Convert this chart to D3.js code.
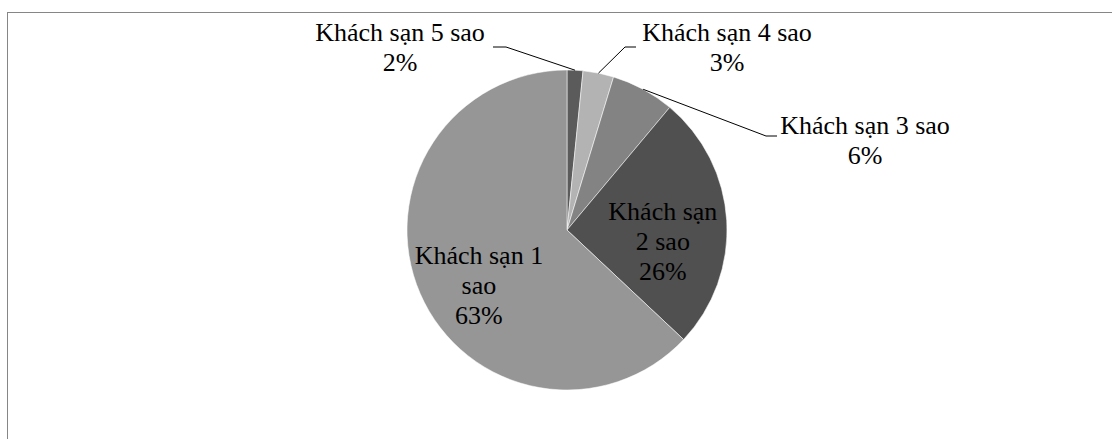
<!DOCTYPE html>
<html>
<head>
<meta charset="utf-8">
<script src="https://cdn.jsdelivr.net/npm/d3@7"></script>
<style>
  html, body { margin: 0; padding: 0; background: #fff; overflow: hidden; }
  svg { display: block; }
  .lbl { font-family: "Liberation Serif", "DejaVu Serif", "Times New Roman", serif; }
</style>
</head>
<body>
<svg id="chart" width="1112" height="439"></svg>
<script>
// data
const categories = ["Khách sạn 5 sao", "Khách sạn 4 sao", "Khách sạn 3 sao", "Khách sạn 2 sao", "Khách sạn 1 sao"];
const shares = [1.6, 3.1, 6.4, 25.9, 63.0];
// how many words go on the first label line (inside labels wrap)
const firstLineWords = [4, 4, 4, 2, 3];

const svg = d3.select("#chart");
const width = 1112, height = 439;

// chart area frame (right and bottom edges fall outside the picture)
svg.append("rect")
  .attr("x", 7.5).attr("y", 12.5)
  .attr("width", width + 20).attr("height", height + 20)
  .attr("fill", "#fff")
  .attr("stroke", "#868686")
  .attr("stroke-width", 1);

const cx = 567, cy = 230, r = 160;

const color = d3.scaleOrdinal()
  .domain(categories)
  .range(["#5b5b5b", "#b3b3b3", "#838383", "#505050", "#969696"]);

const data = categories.map((c, i) => ({ name: c, value: shares[i], idx: i }));

const pie = d3.pie().sort(null).value(d => d.value);
const arcs = pie(data);

const arc = d3.arc().innerRadius(0).outerRadius(r);
const edgeArc = d3.arc().innerRadius(r).outerRadius(r);
const innerArc = d3.arc().innerRadius(r * 0.6).outerRadius(r * 0.6);

const g = svg.append("g").attr("transform", `translate(${cx},${cy})`);

g.selectAll("path.slice")
  .data(arcs)
  .enter()
  .append("path")
  .attr("class", "slice")
  .attr("d", arc)
  .attr("fill", d => color(d.data.name))
  .attr("stroke", "#ffffff")
  .attr("stroke-opacity", 0.7)
  .attr("stroke-width", 0.75);

const fontSize = 26, lineH = 30;

function labelLines(d) {
  const words = d.data.name.split(" ");
  const n = firstLineWords[d.data.idx];
  const lines = [words.slice(0, n).join(" ")];
  if (n < words.length) lines.push(words.slice(n).join(" "));
  lines.push(Math.round(d.data.value) + "%");
  return lines;
}

// outside labels: label box (centre x, middle y), leader elbow x/y and end x
const outside = {
  0: { x: 400, y: 47, ly: 47, elbow: 506, end: 493 },
  1: { x: 727, y: 47, ly: 47, elbow: 625, end: 636 },
  2: { x: 865, y: 140, ly: 136, elbow: 766, end: 777 }
};

const labels = svg.append("g")
  .attr("class", "lbl")
  .style("font-size", fontSize + "px")
  .attr("fill", "#000");

arcs.forEach(d => {
  const lines = labelLines(d);
  const o = outside[d.data.idx];
  let lx, ly;
  if (o) {
    lx = o.x; ly = o.y;
    const p = edgeArc.centroid(d);
    svg.append("polyline")
      .attr("points", [[cx + p[0], cy + p[1]], [o.elbow, o.ly], [o.end, o.ly]].map(q => q.join(",")).join(" "))
      .attr("fill", "none")
      .attr("stroke", "#000")
      .attr("stroke-width", 1);
  } else {
    const c = innerArc.centroid(d);
    lx = cx + c[0];
    ly = cy + c[1] + 17;
  }
  const top = ly - (lines.length * lineH) / 2;
  const t = labels.append("text").attr("text-anchor", "middle");
  lines.forEach((s, i) => {
    t.append("tspan")
      .attr("x", lx)
      .attr("y", top + i * lineH + lineH / 2 + 9)
      .text(s);
  });
});
</script>
</body>
</html>
